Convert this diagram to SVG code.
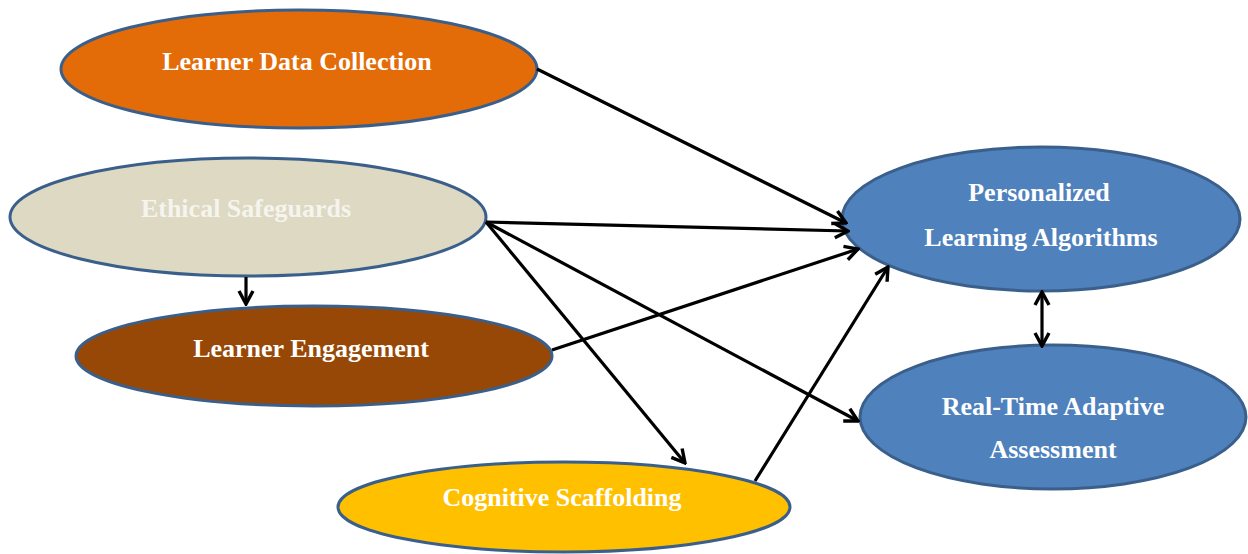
<svg xmlns="http://www.w3.org/2000/svg" width="1248" height="554" viewBox="0 0 1248 554">
<style>
.node{stroke:#3A5F8B;stroke-width:3}
.lbl{font-family:"Liberation Serif","Times New Roman",serif;font-weight:bold;font-size:26px;fill:#FFFFFF;text-anchor:middle}
.edge{stroke:#000;stroke-width:3.2;fill:none}
</style>
<defs>
<marker id="arr" viewBox="0 0 18 18" refX="16" refY="9" markerWidth="18" markerHeight="18" markerUnits="userSpaceOnUse" orient="auto-start-reverse">
<path d="M3,2 L16,9 L3,16" fill="none" stroke="#000" stroke-width="3.4" stroke-linejoin="miter"/>
</marker>
</defs>
<rect width="1248" height="554" fill="#fff"/>
<g id="learner-data-collection">
<ellipse class="node" cx="299" cy="69" rx="238" ry="59" fill="#E36C09"/>
<text class="lbl" x="297" y="70">Learner Data Collection</text>
</g>
<g id="ethical-safeguards">
<ellipse class="node" cx="248" cy="217" rx="238" ry="59" fill="#DDD9C3"/>
<text class="lbl" x="246" y="217" style="fill:#F5F4EE">Ethical Safeguards</text>
</g>
<g id="learner-engagement">
<ellipse class="node" cx="314" cy="356" rx="238" ry="50" fill="#974806"/>
<text class="lbl" x="311" y="357">Learner Engagement</text>
</g>
<g id="cognitive-scaffolding">
<ellipse class="node" cx="564" cy="507" rx="226" ry="45" fill="#FFC000"/>
<text class="lbl" x="562" y="506">Cognitive Scaffolding</text>
</g>
<g id="personalized-learning-algorithms">
<ellipse class="node" cx="1041" cy="219" rx="199" ry="72" fill="#4F81BD"/>
<text class="lbl" x="1039" y="201">Personalized</text>
<text class="lbl" x="1041" y="246">Learning Algorithms</text>
</g>
<g id="real-time-adaptive-assessment">
<ellipse class="node" cx="1053" cy="417" rx="193" ry="72" fill="#4F81BD"/>
<text class="lbl" x="1053" y="415">Real-Time Adaptive</text>
<text class="lbl" x="1053" y="458">Assessment</text>
</g>
<g id="connectors">
<line class="edge" x1="537" y1="69" x2="846" y2="223" marker-end="url(#arr)"/>
<line class="edge" x1="486" y1="222" x2="848" y2="231" marker-end="url(#arr)"/>
<line class="edge" x1="486" y1="222" x2="858" y2="421" marker-end="url(#arr)"/>
<line class="edge" x1="486" y1="222" x2="685" y2="463" marker-end="url(#arr)"/>
<line class="edge" x1="552" y1="350" x2="858" y2="249" marker-end="url(#arr)"/>
<line class="edge" x1="755" y1="481" x2="888" y2="267" marker-end="url(#arr)"/>
<line class="edge" x1="246" y1="277" x2="246" y2="304" marker-end="url(#arr)"/>
<line class="edge" x1="1042" y1="292" x2="1042" y2="346" marker-start="url(#arr)" marker-end="url(#arr)"/>
</g>
</svg>
